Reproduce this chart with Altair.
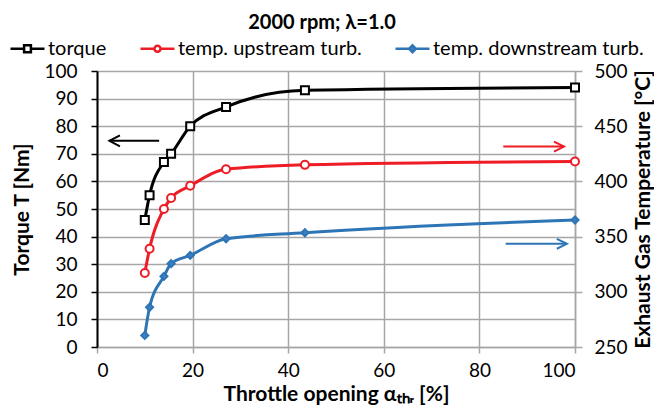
import altair as alt
import pandas as pd

# ---------------- data ----------------
throttle = [10, 11, 14, 15.5, 19.5, 27, 43.5, 100]
torque = [46, 55, 67, 70, 80, 87, 93, 94]
temp_up = [317, 339, 375, 385, 396, 411, 415, 418]
temp_down = [260.5, 286, 314, 325.5, 333, 348, 353.5, 365]

series_names = ["torque", "temp. upstream turb.", "temp. downstream turb."]
series_colors = ["#000000", "#EE1C25", "#2E75B6"]
marker_fills = ["#FFFFFF", "#FFFFFF", "#3F7FC0"]

# annotation arrows (data units): tail x, tip x, y
arrow_tail_x = [13.0, 85.0, 85.5]
arrow_tip_x = [2.6, 97.7, 98.3]
arrow_y = [74.7, 431.5, 343.5]
arrow_colors = ["#000000", "#EE1C25", "#2E75B6"]

FONT = "Lato"
GRID = "#A6A6A6"

# ---------------- scales / axes ----------------
x_axis = alt.Axis(
    title="Throttle opening  αₜₕᵣ [%]", values=[0, 20, 40, 60, 80, 100],
    grid=True, gridColor=GRID, gridWidth=1.5,
    domainColor=GRID, domainWidth=1.5, tickColor=GRID, tickWidth=1.5, tickSize=6,
    labelFont=FONT, labelFontSize=19, labelColor="#000", labelPadding=8,
    titleFont=FONT, titleFontSize=21, titleFontWeight="bold", titleColor="#000", titlePadding=3,
)
x_enc = alt.X("x:Q", scale=alt.Scale(domain=[0, 100], nice=False, zero=False), axis=x_axis)

left_axis = alt.Axis(
    title="Torque T [Nm]", orient="left", values=list(range(0, 101, 10)),
    grid=True, gridColor=GRID, gridWidth=1.5,
    domainColor="#000", domainWidth=2, tickColor="#000", tickWidth=1.5, tickSize=6,
    labelFont=FONT, labelFontSize=19, labelColor="#000", labelPadding=14,
    titleFont=FONT, titleFontSize=21, titleFontWeight="bold", titleColor="#000", titlePadding=11,
)
y_left = alt.Y("y:Q", scale=alt.Scale(domain=[0, 100], nice=False, zero=False), axis=left_axis)

right_axis = alt.Axis(
    title="Exhaust Gas Temperature [°C]", orient="right", values=list(range(250, 501, 50)),
    grid=False, domainColor=GRID, domainWidth=1.5, tickColor=GRID, tickWidth=1.5, tickSize=7,
    labelFont=FONT, labelFontSize=19, labelColor="#000", labelPadding=12,
    titleFont=FONT, titleFontSize=21, titleFontWeight="bold", titleColor="#000", titlePadding=5,
    titleAngle=270, titleBaseline="top",
)
y_right = alt.Y("y:Q", scale=alt.Scale(domain=[250, 500], nice=False, zero=False), axis=right_axis)


def series_layers(values, color, shape, fill, size, y_enc):
    df = pd.DataFrame({"x": throttle, "y": values})
    line = alt.Chart(df).mark_line(color=color, strokeWidth=3, interpolate="monotone").encode(x=x_enc, y=y_enc)
    pts = alt.Chart(df).mark_point(shape=shape, color=color, fill=fill, filled=False, fillOpacity=1,
                                   strokeWidth=2, size=size, opacity=1).encode(x=x_enc, y=y_enc)
    return [line, pts]


def arrow_layers(i, y_enc, hx, hy):
    tail, tip, yv, col = arrow_tail_x[i], arrow_tip_x[i], arrow_y[i], arrow_colors[i]
    d = 1 if tip > tail else -1
    shaft = pd.DataFrame({"x": [tail, tip], "y": [yv, yv], "o": [0, 1]})
    head = pd.DataFrame({"x": [tip - d * hx, tip, tip - d * hx],
                         "y": [yv + hy, yv, yv - hy], "o": [0, 1, 2]})
    a = alt.Chart(shaft).mark_line(color=col, strokeWidth=2).encode(x=x_enc, y=y_enc, order="o:Q")
    b = alt.Chart(head).mark_line(color=col, strokeWidth=2).encode(x=x_enc, y=y_enc, order="o:Q")
    return [a, b]


# legend provider (empty data, explicit domain)
legend_paths = [
    "M-1,0H-0.2M0.2,0H1M-0.2,-0.2H0.2V0.2H-0.2Z",
    "M-1,0H-0.18M0.18,0H1M-0.18,0A0.18,0.18 0 1,0 0.18,0A0.18,0.18 0 1,0 -0.18,0Z",
    "M-1,0H-0.2M0.2,0H1M0,-0.2L0.2,0L0,0.2L-0.2,0Z",
]
leg = alt.Legend(
    title=None, orient="none", direction="horizontal", columns=3,
    legendX=-88, legendY=-41, symbolSize=1156, symbolStrokeWidth=2.5,
    labelFont=FONT, labelFontSize=20, labelColor="#000", labelOffset=2, labelLimit=400,
    columnPadding=28, symbolOffset=0,
    labelExpr="datum.label == 'temp. upstream turb.' ? datum.label + '   ' : datum.label",
)
legend_df = pd.DataFrame({"series": pd.Series([], dtype=str)})
legend_layer = alt.Chart(legend_df).mark_point(strokeWidth=2.5, opacity=1).encode(
    shape=alt.Shape("series:N", scale=alt.Scale(domain=series_names, range=legend_paths), legend=leg),
    stroke=alt.Stroke("series:N", scale=alt.Scale(domain=series_names, range=series_colors), legend=leg),
    fill=alt.Fill("series:N", scale=alt.Scale(domain=series_names, range=marker_fills), legend=leg),
)

left = alt.layer(
    *series_layers(torque, series_colors[0], "square", "#FFFFFF", 64, y_left),
    *arrow_layers(0, y_left, 2.2, 2.0),
)
right = alt.layer(
    *series_layers(temp_up, series_colors[1], "circle", "#FFFFFF", 64, y_right),
    *series_layers(temp_down, series_colors[2], "diamond", marker_fills[2], 50, y_right),
    *arrow_layers(1, y_right, 2.1, 4.5),
    *arrow_layers(2, y_right, 2.1, 4.5),
    legend_layer,
)

chart = alt.layer(left, right).resolve_scale(y="independent").properties(
    width=478, height=276,
    autosize=alt.AutoSizeParams(type="none"),
    padding={"left": 89, "top": 63, "right": 79, "bottom": 60},
    title=alt.Title("2000 rpm;  λ=1.0", font=FONT, fontSize=20, fontWeight="bold", color="#000",
                    anchor="middle", dx=-14, offset=-3),
).configure_view(stroke=None).configure_title(fontSize=20, font=FONT)

chart.save("out.html", embed_options={"renderer": "svg", "actions": False})
